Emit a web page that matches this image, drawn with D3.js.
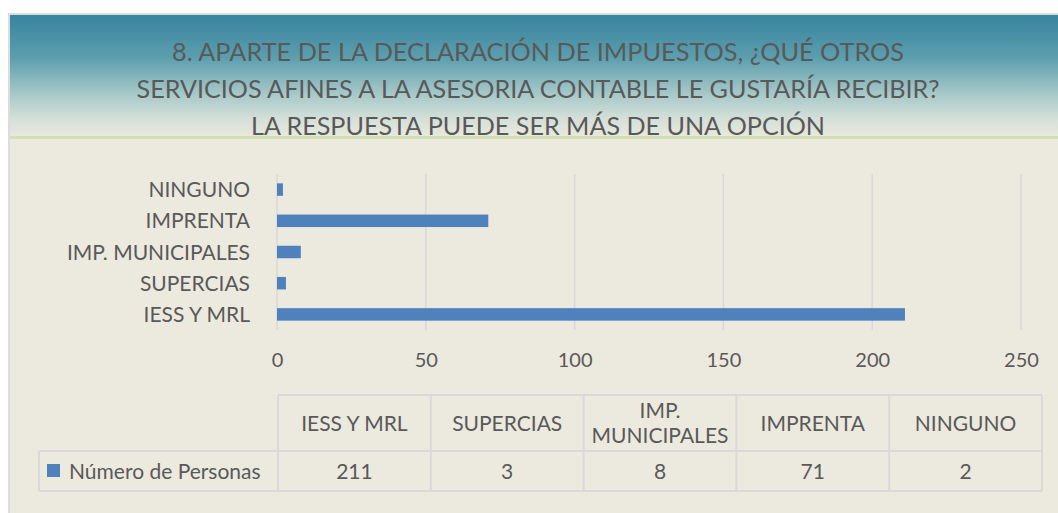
<!DOCTYPE html>
<html><head><meta charset="utf-8">
<script src="https://cdn.jsdelivr.net/npm/d3@7"></script>
<style>body{margin:0;background:#fff}svg{display:block}</style>
</head><body><svg id="c" width="1058" height="513"></svg>
<script>
const categories = ["IESS Y MRL", "SUPERCIAS", "IMP. MUNICIPALES", "IMPRENTA", "NINGUNO"];
const values = [211, 3, 8, 71, 2];
const seriesName = "Número de Personas";
const xTicks = [0, 50, 100, 150, 200, 250];
const titleLines = [
  "8. APARTE DE LA DECLARACIÓN DE IMPUESTOS, ¿QUÉ OTROS",
  "SERVICIOS AFINES A LA ASESORIA CONTABLE LE GUSTARÍA RECIBIR?",
  "LA RESPUESTA PUEDE SER MÁS DE UNA OPCIÓN"
];
const headerLines = [["IESS Y MRL"], ["SUPERCIAS"], ["IMP.", "MUNICIPALES"], ["IMPRENTA"], ["NINGUNO"]];

const svg = d3.select("#c");
const textColor = "#595959";
const gridColor = "#d9d9d9";
const font = "Lato, 'Open Sans', sans-serif";
const fs = 21;

// background / frame
const defs = svg.append("defs");
const grad = defs.append("linearGradient").attr("id", "tg").attr("x1", 0).attr("y1", 0).attr("x2", 0).attr("y2", 1);
[[0, "#37849e"], [0.35, "#5c9eae"], [0.65, "#a6c8c8"], [0.85, "#d3dfd8"], [1, "#e9e8dd"]]
  .forEach(([o, c]) => grad.append("stop").attr("offset", o).attr("stop-color", c));

svg.append("rect").attr("x", 8).attr("y", 13).attr("width", 1060).attr("height", 510)
  .attr("fill", "#dcdcdc");
svg.append("rect").attr("x", 10).attr("y", 15).attr("width", 1060).attr("height", 510)
  .attr("fill", "#ece9df");
svg.append("rect").attr("x", 10).attr("y", 15).attr("width", 1060).attr("height", 121)
  .attr("fill", "url(#tg)");
svg.append("rect").attr("x", 10).attr("y", 136).attr("width", 1060).attr("height", 3)
  .attr("fill", "#d3dfb4");

// title
const titleWidths = [732, 803, 574];
const titleY = [61, 98, 135];
svg.append("g").selectAll("text").data(titleLines).join("text")
  .attr("x", 538).attr("y", (d, i) => titleY[i])
  .attr("text-anchor", "middle")
  .attr("font-family", font).attr("font-weight", 400).attr("font-size", 25)
  .attr("fill", textColor)
  .attr("textLength", (d, i) => titleWidths[i]).attr("lengthAdjust", "spacingAndGlyphs")
  .text(d => d);

// scales
const x = d3.scaleLinear().domain([0, 250]).range([277, 1021]);
const y = d3.scaleBand().domain(categories.slice().reverse()).range([174, 330])
  .paddingInner(0.6).paddingOuter(0.3);

// grid
svg.append("g").selectAll("line").data(xTicks).join("line")
  .attr("x1", d => x(d)).attr("x2", d => x(d)).attr("y1", 174).attr("y2", 330)
  .attr("stroke", gridColor).attr("stroke-width", 1.5);

// bars
svg.append("g").selectAll("rect").data(categories).join("rect")
  .attr("x", x(0)).attr("y", d => y(d))
  .attr("width", (d, i) => x(values[i]) - x(0))
  .attr("height", y.bandwidth())
  .attr("fill", "#4f81bd");

// y axis labels
const yAxis = d3.axisLeft(y).tickSize(0).tickPadding(0);
const yg = svg.append("g").attr("transform", "translate(250,0)").call(yAxis);
yg.select(".domain").remove();
yg.selectAll("text").attr("font-family", font).attr("font-size", fs).attr("fill", textColor)
  .attr("dy", "0.36em");

// x axis labels
const xAxis = d3.axisBottom(x).tickValues(xTicks).tickSize(0).tickPadding(0);
const xg = svg.append("g").attr("transform", "translate(0,360)").call(xAxis);
xg.select(".domain").remove();
xg.selectAll("text").attr("font-family", font).attr("font-size", 20).attr("fill", textColor)
  .attr("dy", "0.36em");

// data table
const col = d3.scaleBand().domain(categories).range([278, 1042]);
const tTop = 395, tMid = 451, tBot = 491, legLeft = 39;
const tg = svg.append("g").attr("stroke", gridColor).attr("stroke-width", 2).attr("fill", "none");
tg.append("line").attr("x1", 278).attr("x2", 1042).attr("y1", tTop).attr("y2", tTop);
tg.append("line").attr("x1", legLeft).attr("x2", 1042).attr("y1", tMid).attr("y2", tMid);
tg.append("line").attr("x1", legLeft).attr("x2", 1042).attr("y1", tBot).attr("y2", tBot);
tg.append("line").attr("x1", legLeft).attr("x2", legLeft).attr("y1", tMid).attr("y2", tBot);
tg.selectAll(".v").data(categories).join("line").attr("class", "v")
  .attr("x1", d => col(d)).attr("x2", d => col(d)).attr("y1", tTop).attr("y2", tBot);
tg.append("line").attr("x1", 1042).attr("x2", 1042).attr("y1", tTop).attr("y2", tBot);

// header text
const hg = svg.append("g");
categories.forEach((c, i) => {
  const lines = headerLines[i];
  const cx = col(c) + col.bandwidth() / 2;
  const cy = (tTop + tMid) / 2;
  lines.forEach((ln, j) => {
    hg.append("text").attr("x", cx)
      .attr("y", cy + (j - (lines.length - 1) / 2) * 25)
      .attr("dy", "0.36em").attr("text-anchor", "middle")
      .attr("font-family", font).attr("font-size", fs).attr("fill", textColor)
      .text(ln);
  });
});
// values
svg.append("g").selectAll("text").data(categories).join("text")
  .attr("x", d => col(d) + col.bandwidth() / 2).attr("y", (tMid + tBot) / 2)
  .attr("dy", "0.36em").attr("text-anchor", "middle")
  .attr("font-family", font).attr("font-size", fs).attr("fill", textColor)
  .text((d, i) => values[i]);
// legend
svg.append("rect").attr("x", 47).attr("y", 464).attr("width", 13).attr("height", 13).attr("fill", "#4f81bd");
svg.append("text").attr("x", 69).attr("y", (tMid + tBot) / 2).attr("dy", "0.36em")
  .attr("font-family", font).attr("font-size", fs).attr("fill", textColor).text(seriesName);
</script></body></html>
